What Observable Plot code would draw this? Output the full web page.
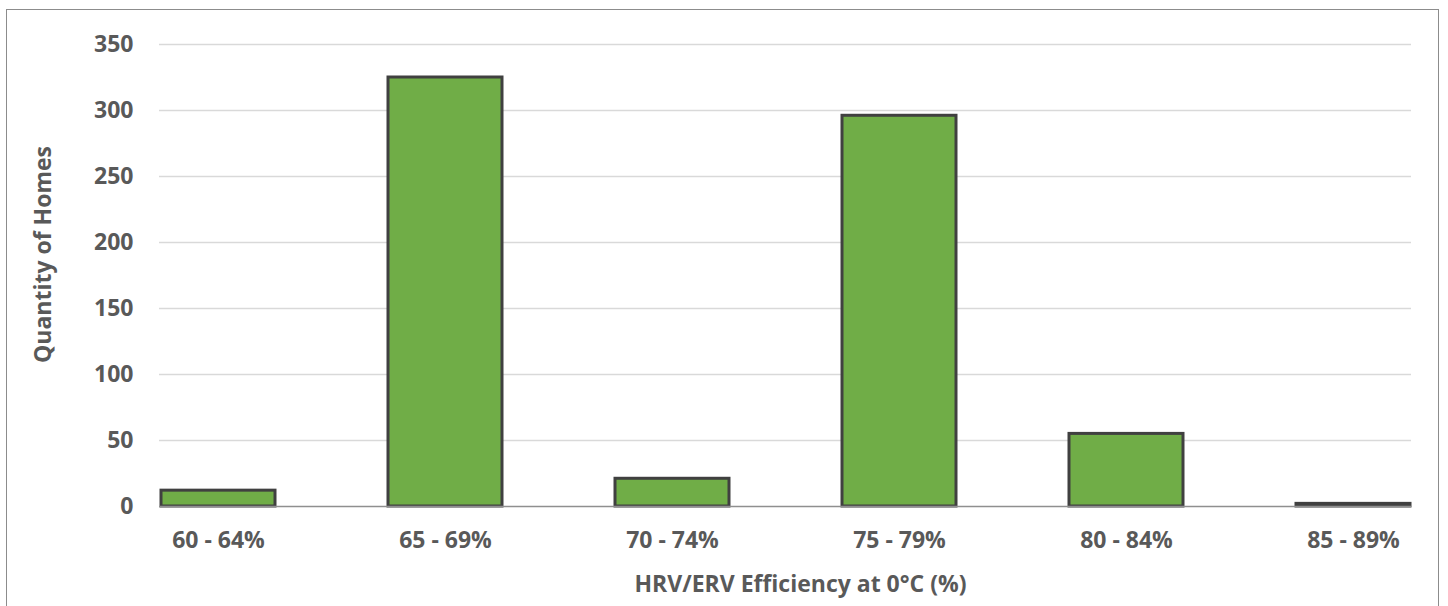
<!DOCTYPE html>
<html>
<head>
<meta charset="utf-8">
<script src="https://cdn.jsdelivr.net/npm/d3@7"></script>
<script src="https://cdn.jsdelivr.net/npm/@observablehq/plot@0.6"></script>
<style>
  html, body { margin: 0; padding: 0; background: #fff; overflow: hidden; }
  #wrap { position: relative; width: 1448px; height: 606px; }
  #frame { position: absolute; left: 6px; top: 9px; width: 1433px; height: 700px; border: 1.5px solid #8c8c8c; box-sizing: border-box; }
  #chart { position: absolute; left: 0; top: 0; }
  svg text { font-family: "Open Sans", sans-serif; font-weight: 700; }
</style>
</head>
<body>
<div id="wrap"><div id="frame"></div><div id="chart"></div></div>
<script>
const categories = ["60 - 64%", "65 - 69%", "70 - 74%", "75 - 79%", "80 - 84%", "85 - 89%"];
const homes = [12, 325, 21, 296, 55, 2];
const yTicks = [0, 50, 100, 150, 200, 250, 300, 350];
const xTitle = "HRV/ERV Efficiency at 0°C (%)";
const yTitle = "Quantity of Homes";

const data = categories.map((c, i) => ({category: c, value: homes[i]}));
const textColor = "#595959";

const chart = Plot.plot({
  width: 1448,
  height: 606,
  marginLeft: 159,
  marginRight: 37,
  marginTop: 44,
  marginBottom: 100,
  style: {background: "transparent", fontFamily: "'Open Sans', sans-serif", overflow: "visible"},
  x: {type: "band", domain: categories, paddingInner: 0.5, paddingOuter: 0, align: 0.5},
  y: {domain: [0, 350], ticks: yTicks},
  marks: [
    Plot.gridY(yTicks.filter(d => d > 0), {stroke: "#d9d9d9", strokeOpacity: 1, strokeWidth: 1.3}),
    Plot.axisY(yTicks, {tickSize: 0, tickPadding: 26, fontSize: 23, fill: textColor, label: null, fontWeight: 700}),
    Plot.axisX({tickSize: 0, tickPadding: 25, fontSize: 23, fill: textColor, label: null, fontWeight: 700}),
    Plot.barY(data, {x: "category", y: "value", fill: "#70ad47", stroke: "#404040", strokeWidth: 3}),
    Plot.ruleY([0], {stroke: "#8f8f8f", strokeWidth: 1.5}),
    Plot.text([xTitle], {frameAnchor: "bottom", dx: 15, dy: 85, fontSize: 23, fill: textColor, fontWeight: 700}),
    Plot.text([yTitle], {frameAnchor: "left", textAnchor: "middle", rotate: -90, dx: -116, dy: -21, fontSize: 23, fill: textColor, fontWeight: 700})
  ]
});
document.getElementById("chart").appendChild(chart);
</script>
</body>
</html>
